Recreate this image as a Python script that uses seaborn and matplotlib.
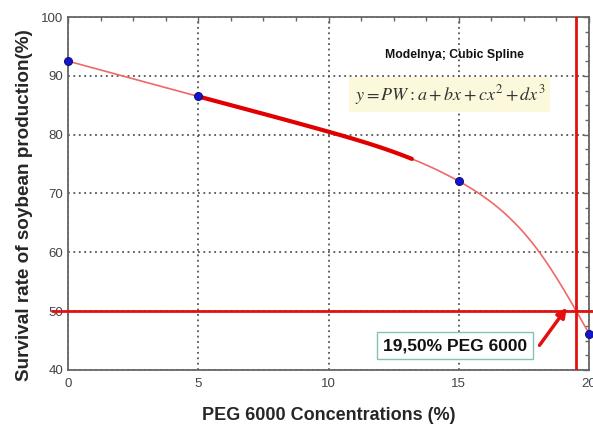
import numpy as np
import pandas as pd
import seaborn as sns
import matplotlib.pyplot as plt
from matplotlib.ticker import MultipleLocator

#%% data

# observed points (markers)
peg = [0, 5, 15, 20]
survival = [92.5, 86.5, 72.1, 46.2]

# knots of the cubic spline curve
knot_x = [0, 5, 10, 15, 18.1, 20]
knot_y = [92.5, 86.5, 80.5, 72.1, 60.0, 46.2]

# highlighted part of the model and the 50% cut
highlight_from = 5
highlight_to = 13.2
cut_y = 50
cut_x = 19.5

#%% natural cubic spline (no scipy here)

def natural_spline(xk, yk, xs):
    xk = np.asarray(xk, float)
    yk = np.asarray(yk, float)
    n = len(xk)
    h = np.diff(xk)
    A = np.zeros((n, n))
    r = np.zeros(n)
    A[0, 0] = A[-1, -1] = 1
    for i in range(1, n - 1):
        A[i, i - 1] = h[i - 1]
        A[i, i] = 2 * (h[i - 1] + h[i])
        A[i, i + 1] = h[i]
        r[i] = 6 * ((yk[i + 1] - yk[i]) / h[i] - (yk[i] - yk[i - 1]) / h[i - 1])
    M = np.linalg.solve(A, r)
    idx = np.clip(np.searchsorted(xk, xs) - 1, 0, n - 2)
    x0, x1 = xk[idx], xk[idx + 1]
    hh = x1 - x0
    a = (x1 - xs) / hh
    b = (xs - x0) / hh
    return (a * yk[idx] + b * yk[idx + 1]
            + ((a**3 - a) * M[idx] + (b**3 - b) * M[idx + 1]) * hh**2 / 6)

xs = np.linspace(0, 20, 400)
curve = pd.DataFrame({'x': xs, 'y': natural_spline(knot_x, knot_y, xs)})
xh = np.linspace(highlight_from, highlight_to, 100)
hl = pd.DataFrame({'x': xh, 'y': natural_spline(knot_x, knot_y, xh)})
pts = pd.DataFrame({'x': peg, 'y': survival})

#%% plot

sns.set_style('white')
plt.rcParams['font.family'] = ['Liberation Sans', 'DejaVu Sans']
plt.rcParams['mathtext.fontset'] = 'stix'

fig = plt.figure(figsize=(5.93, 4.28), dpi=100)
ax = fig.add_axes([68 / 593, 58 / 428, (589 - 68) / 593, (370 - 17) / 428])

sns.lineplot(data=curve, x='x', y='y', color='#f06868', lw=1.2, ax=ax)
sns.lineplot(data=hl, x='x', y='y', color='#e00000', lw=3, ax=ax)
ax.axvline(cut_x, color='#e41010', lw=2, zorder=4)
ax.plot([-0.6, 20.2], [cut_y, cut_y], color='#e41010', lw=2, clip_on=False, zorder=4)
sns.scatterplot(data=pts, x='x', y='y', color='#1414d8', edgecolor='#101070',
                s=32, linewidth=0.8, zorder=5, clip_on=False, ax=ax)

ax.set_xlim(0, 20)
ax.set_ylim(40, 100)
ax.xaxis.set_major_locator(MultipleLocator(5))
ax.xaxis.set_minor_locator(MultipleLocator(1.25))
ax.yaxis.set_major_locator(MultipleLocator(10))
ax.yaxis.set_minor_locator(MultipleLocator(2.5))
ax.tick_params(which='both', direction='in', top=True, right=True,
               colors='#666666', labelcolor='#444444', labelsize=9.5)
ax.tick_params(axis='x', pad=6)
ax.tick_params(which='major', length=4, width=1)
ax.tick_params(which='minor', length=3, width=1)
for s in ax.spines.values():
    s.set_color('#666666')
    s.set_linewidth(1.3)

ax.grid(True, which='major', color='#555555', lw=1.3, ls=(0, (1, 2)))

ax.set_xlabel('PEG 6000 Concentrations (%)', fontsize=13, fontweight='bold')
ax.set_ylabel('Survival rate of soybean production(%)', fontsize=13.6, fontweight='bold')
ax.xaxis.set_label_coords(0.5, -0.105)
ax.yaxis.set_label_coords(-0.068, 0.467)

ax.text(14.85, 93.6, 'Modelnya; Cubic Spline', fontsize=8.8, fontweight='bold',
        ha='center', va='center', color='#111111')
ax.text(11.0, 86.8, r'$y = PW: a + bx + cx^2 + dx^3$', fontsize=13, color='#333333',
        ha='left', va='center',
        bbox=dict(boxstyle='square,pad=0.3', fc='#fbf8dc', ec='none'))

ax.text(14.85, 44.1, '19,50% PEG 6000', fontsize=12.5, fontweight='bold',
        ha='center', va='center', color='#111111', zorder=6,
        bbox=dict(boxstyle='square,pad=0.35', fc='white', ec='#80c4b8', lw=1))
ax.annotate('', xy=(19.15, 50.6), xytext=(18.1, 44.2),
            arrowprops=dict(arrowstyle='-|>', color='#e41010', lw=2.5,
                            mutation_scale=14, shrinkA=0, shrinkB=0), zorder=6)

fig.savefig('out.png', dpi=100)
